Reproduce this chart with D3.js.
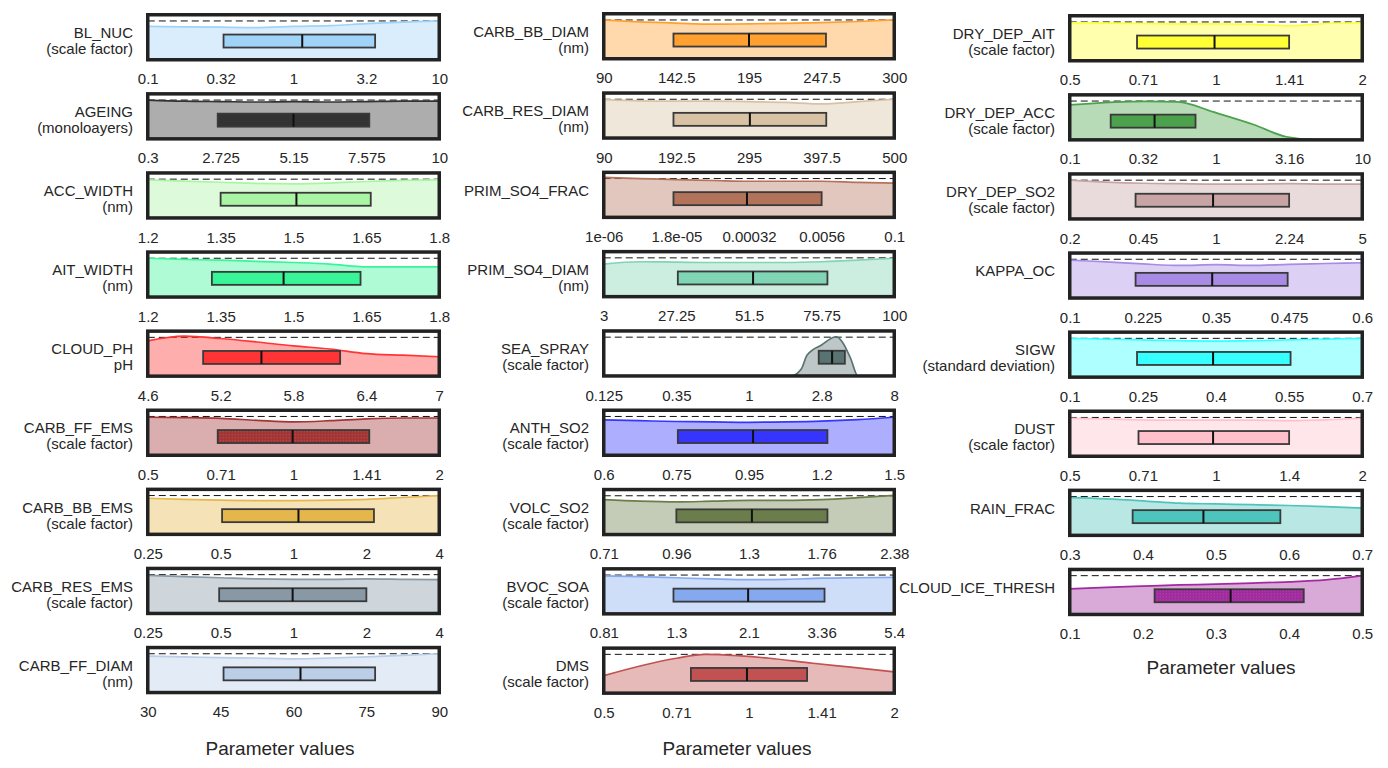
<!DOCTYPE html>
<html><head><meta charset="utf-8">
<script src="https://cdn.jsdelivr.net/npm/d3@7"></script>
<style>
body{margin:0;background:#fff}
text{font-family:"Liberation Sans",Arial,Helvetica,sans-serif;fill:#262626}
</style>
</head><body>
<svg id="chart" width="1388" height="768"></svg>
<script>
// ---------------- DATA ----------------
const names = ["BL_NUC","AGEING","ACC_WIDTH","AIT_WIDTH","CLOUD_PH","CARB_FF_EMS","CARB_BB_EMS","CARB_RES_EMS","CARB_FF_DIAM",
  "CARB_BB_DIAM","CARB_RES_DIAM","PRIM_SO4_FRAC","PRIM_SO4_DIAM","SEA_SPRAY","ANTH_SO2","VOLC_SO2","BVOC_SOA","DMS",
  "DRY_DEP_AIT","DRY_DEP_ACC","DRY_DEP_SO2","KAPPA_OC","SIGW","DUST","RAIN_FRAC","CLOUD_ICE_THRESH"];
const units = ["(scale factor)","(monoloayers)","(nm)","(nm)","pH","(scale factor)","(scale factor)","(scale factor)","(nm)",
  "(nm)","(nm)","","(nm)","(scale factor)","(scale factor)","(scale factor)","(scale factor)","(scale factor)",
  "(scale factor)","(scale factor)","(scale factor)","","(standard deviation)","(scale factor)","",""];
const tickLabels = [
  ["0.1","0.32","1","3.2","10"],
  ["0.3","2.725","5.15","7.575","10"],
  ["1.2","1.35","1.5","1.65","1.8"],
  ["1.2","1.35","1.5","1.65","1.8"],
  ["4.6","5.2","5.8","6.4","7"],
  ["0.5","0.71","1","1.41","2"],
  ["0.25","0.5","1","2","4"],
  ["0.25","0.5","1","2","4"],
  ["30","45","60","75","90"],
  ["90","142.5","195","247.5","300"],
  ["90","192.5","295","397.5","500"],
  ["1e-06","1.8e-05","0.00032","0.0056","0.1"],
  ["3","27.25","51.5","75.75","100"],
  ["0.125","0.35","1","2.8","8"],
  ["0.6","0.75","0.95","1.2","1.5"],
  ["0.71","0.96","1.3","1.76","2.38"],
  ["0.81","1.3","2.1","3.36","5.4"],
  ["0.5","0.71","1","1.41","2"],
  ["0.5","0.71","1","1.41","2"],
  ["0.1","0.32","1","3.16","10"],
  ["0.2","0.45","1","2.24","5"],
  ["0.1","0.225","0.35","0.475","0.6"],
  ["0.1","0.25","0.4","0.55","0.7"],
  ["0.5","0.71","1","1.4","2"],
  ["0.3","0.4","0.5","0.6","0.7"],
  ["0.1","0.2","0.3","0.4","0.5"]
];
// tick positions along each (normalised) parameter range
const tickPos = [0, 0.25, 0.5, 0.75, 1];
// box statistics on the normalised parameter range
const boxQ1  = [0.26,0.24,0.25,0.22,0.19,0.24,0.255,0.245,0.26, 0.24,0.24,0.24,0.255,0.74,0.255,0.25,0.24,0.30, 0.23,0.14,0.225,0.225,0.23,0.235,0.215,0.29];
const boxMed = [0.53,0.50,0.51,0.466,0.39,0.497,0.517,0.497,0.524, 0.50,0.503,0.493,0.514,0.786,0.514,0.51,0.497,0.493, 0.495,0.29,0.49,0.487,0.49,0.49,0.457,0.55];
const boxQ3  = [0.78,0.76,0.765,0.73,0.66,0.76,0.776,0.75,0.78, 0.765,0.766,0.75,0.77,0.83,0.77,0.77,0.76,0.70, 0.75,0.43,0.75,0.745,0.755,0.75,0.72,0.80];
// posterior densities relative to the uniform prior (dashed line = 1)
const densities = [
  [[0,0.86],[0.125,0.85],[0.25,0.84],[0.375,0.83],[0.5,0.86],[0.625,0.88],[0.75,0.93],[0.875,0.97],[1,1.0]],
  [[0,1.0],[0.125,0.97],[0.25,0.96],[0.375,0.95],[0.5,0.96],[0.625,0.95],[0.75,0.96],[0.875,0.97],[1,0.97]],
  [[0,0.98],[0.125,0.95],[0.25,0.92],[0.375,0.89],[0.5,0.88],[0.625,0.9],[0.75,0.94],[0.875,0.97],[1,0.98]],
  [[0,1.0],[0.125,0.97],[0.25,0.95],[0.375,0.92],[0.5,0.89],[0.625,0.85],[0.75,0.78],[0.875,0.78],[1,0.78]],
  [[0,0.91],[0.125,1.03],[0.25,0.97],[0.375,0.88],[0.5,0.78],[0.625,0.7],[0.75,0.58],[0.875,0.54],[1,0.5]],
  [[0,0.98],[0.125,0.97],[0.25,0.95],[0.375,0.9],[0.5,0.86],[0.625,0.89],[0.75,0.94],[0.875,0.96],[1,0.96]],
  [[0,0.93],[0.125,0.9],[0.25,0.88],[0.375,0.87],[0.5,0.87],[0.625,0.88],[0.75,0.9],[0.875,0.95],[1,1.0]],
  [[0,0.98],[0.125,0.95],[0.25,0.92],[0.375,0.89],[0.5,0.88],[0.625,0.88],[0.75,0.89],[0.875,0.88],[1,0.87]],
  [[0,0.94],[0.125,0.92],[0.25,0.9],[0.375,0.89],[0.5,0.87],[0.625,0.89],[0.75,0.92],[0.875,0.96],[1,1.0]],
  [[0,1.0],[0.125,0.95],[0.25,0.92],[0.375,0.89],[0.5,0.9],[0.625,0.91],[0.75,0.93],[0.875,0.96],[1,1.0]],
  [[0,0.99],[0.125,0.96],[0.25,0.95],[0.375,0.95],[0.5,0.94],[0.625,0.92],[0.75,0.88],[0.875,0.94],[1,1.0]],
  [[0,1.03],[0.125,1.0],[0.25,0.97],[0.375,0.95],[0.5,0.93],[0.625,0.93],[0.75,0.93],[0.875,0.9],[1,0.88]],
  [[0,0.84],[0.125,0.9],[0.25,0.89],[0.375,0.88],[0.5,0.88],[0.625,0.88],[0.75,0.9],[0.875,0.94],[1,0.99]],
  [[0,0],[0.645,0],[0.68,0.18],[0.70,0.54],[0.75,0.8],[0.80,1.01],[0.82,0.89],[0.85,0.45],[0.875,0],[1,0]],
  [[0,0.91],[0.125,0.89],[0.25,0.87],[0.375,0.86],[0.5,0.85],[0.625,0.86],[0.75,0.88],[0.875,0.92],[1,0.98]],
  [[0,0.9],[0.125,0.86],[0.25,0.84],[0.375,0.86],[0.5,0.88],[0.625,0.88],[0.75,0.9],[0.875,0.95],[1,1.01]],
  [[0,0.98],[0.125,0.96],[0.25,0.93],[0.375,0.9],[0.5,0.88],[0.625,0.89],[0.75,0.92],[0.875,0.93],[1,0.94]],
  [[0,0.45],[0.125,0.7],[0.25,0.9],[0.35,1.0],[0.47,0.96],[0.57,0.9],[0.72,0.77],[0.85,0.67],[1,0.55]],
  [[0,0.98],[0.125,0.97],[0.25,0.96],[0.375,0.95],[0.5,0.95],[0.625,0.94],[0.75,0.9],[0.875,0.96],[1,0.98]],
  [[0,0.9],[0.26,0.99],[0.37,0.98],[0.49,0.72],[0.63,0.39],[0.74,0.08],[0.85,0],[1,0]],
  [[0,1.0],[0.125,0.95],[0.25,0.92],[0.375,0.91],[0.5,0.9],[0.625,0.9],[0.75,0.91],[0.875,0.9],[1,0.9]],
  [[0,0.98],[0.125,0.93],[0.25,0.88],[0.375,0.84],[0.5,0.86],[0.625,0.84],[0.75,0.87],[0.875,0.89],[1,0.91]],
  [[0,1.0],[0.125,0.98],[0.25,0.96],[0.375,0.94],[0.5,0.93],[0.625,0.94],[0.75,0.96],[0.875,0.98],[1,1.0]],
  [[0,0.98],[0.125,0.96],[0.25,0.94],[0.375,0.93],[0.5,0.93],[0.625,0.93],[0.75,0.92],[0.875,0.94],[1,0.98]],
  [[0,0.97],[0.125,0.94],[0.25,0.89],[0.375,0.83],[0.5,0.81],[0.625,0.79],[0.75,0.77],[0.875,0.74],[1,0.7]],
  [[0,0.66],[0.125,0.7],[0.25,0.73],[0.375,0.76],[0.5,0.78],[0.625,0.81],[0.75,0.84],[0.875,0.89],[1,1.0]]
];
const columnOf = [0,0,0,0,0,0,0,0,0, 1,1,1,1,1,1,1,1,1, 2,2,2,2,2,2,2,2];
const xTitle = "Parameter values";

// ---------------- STYLE ----------------
const colors = ["#9fd3f7","#333333","#a9f5a3","#38f598","#ff3535","#a33434","#e5b64c","#8899a5","#bacee8",
  "#ffa030","#d8c2a3","#b3735a","#80d5b5","#597272","#3535ff","#6b7d4b","#85a9ee","#c25252",
  "#ffff35","#4ca24c","#c8a4a4","#a78be5","#35ffff","#ffc0cb","#4ec4bc","#a02a9e"];
const dottedBox = [5, 25];
const cols = [
  {x:147.75, w:291.5, top:13,  step:79.1, titleX:280,  titleY:754.5},
  {x:603.75, w:290.5, top:12,  step:79.3, titleX:737,  titleY:754.5},
  {x:1069.75,w:292.5, top:14,  step:79.1, titleX:1221, titleY:673.5}
];
const PH = 45, BORDER = 3.5;

// ---------------- DRAW ----------------
const svg = d3.select("#chart");
const defs = svg.append("defs");
const pat = defs.append("pattern").attr("id","dots").attr("width",3).attr("height",3)
  .attr("patternUnits","userSpaceOnUse");
pat.append("rect").attr("x",0).attr("y",0).attr("width",1).attr("height",1).attr("fill","#fff").attr("opacity",0.18);

const y = d3.scaleLinear().domain([0, 1.16]).range([PH, 0]);
const rowCount = [0,0,0];

names.forEach((name, i) => {
  const c = cols[columnOf[i]];
  const row = rowCount[columnOf[i]]++;
  const outerTop = c.top + row * c.step;
  const px = c.x, py = outerTop + BORDER/2;
  const x = d3.scaleLinear().domain([0,1]).range([0, c.w]);
  const g = svg.append("g").attr("transform", `translate(${px},${py})`);
  const col = colors[i];

  defs.append("clipPath").attr("id","clip"+i).append("rect")
    .attr("width", c.w).attr("height", PH);
  const inner = g.append("g").attr("clip-path", `url(#clip${i})`);

  inner.append("rect").attr("width", c.w).attr("height", PH).attr("fill", "#fff");
  // prior (dashed)
  inner.append("line").attr("x1", 0).attr("x2", c.w).attr("y1", y(1)).attr("y2", y(1))
    .attr("stroke", "#111").attr("stroke-width", 1).attr("stroke-dasharray", "7,4");
  // density
  const area = d3.area().x(d => x(d[0])).y0(PH).y1(d => y(d[1])).curve(d3.curveMonotoneX);
  const line = d3.line().x(d => x(d[0])).y(d => y(d[1])).curve(d3.curveMonotoneX);
  inner.append("path").datum(densities[i]).attr("d", area).attr("fill", col).attr("fill-opacity", 0.4);
  inner.append("path").datum(densities[i]).attr("d", line).attr("fill", "none")
    .attr("stroke", col).attr("stroke-width", 1.7);
  // box
  const by = 19.8, bh = 13;
  inner.append("rect").attr("x", x(boxQ1[i])).attr("y", by)
    .attr("width", x(boxQ3[i]) - x(boxQ1[i])).attr("height", bh)
    .attr("fill", col).attr("stroke", "#3a3a3a").attr("stroke-width", 1.8);
  if (dottedBox.includes(i)) {
    inner.append("rect").attr("x", x(boxQ1[i])+1).attr("y", by+1)
      .attr("width", x(boxQ3[i]) - x(boxQ1[i]) - 2).attr("height", bh-2).attr("fill", "url(#dots)");
  }
  inner.append("line").attr("x1", x(boxMed[i])).attr("x2", x(boxMed[i]))
    .attr("y1", by).attr("y2", by + bh).attr("stroke", "#111").attr("stroke-width", 2);
  // frame
  g.append("rect").attr("width", c.w).attr("height", PH).attr("fill", "none")
    .attr("stroke", "#222").attr("stroke-width", BORDER);

  // axis
  const ax = d3.axisBottom(x).tickValues(tickPos).tickSize(0).tickPadding(14)
    .tickFormat((d, k) => tickLabels[i][k]);
  const axg = g.append("g").attr("transform", `translate(0,${PH})`).call(ax);
  axg.select(".domain").remove();
  axg.selectAll("text").style("font-size", "15px").attr("fill", "#262626")
    .style("font-family", '"Liberation Sans",Arial,sans-serif');

  // parameter label
  const lx = -BORDER/2 - 13;
  g.append("text").attr("x", lx).attr("y", 23.2).attr("text-anchor", "end")
    .style("font-size", "15px").text(name);
  if (units[i]) g.append("text").attr("x", lx).attr("y", 39.2).attr("text-anchor", "end")
    .style("font-size", "15px").text(units[i]);
});

cols.forEach(c => {
  svg.append("text").attr("x", c.titleX).attr("y", c.titleY).attr("text-anchor", "middle")
    .style("font-size", "19px").text(xTitle);
});
</script>
</body></html>
